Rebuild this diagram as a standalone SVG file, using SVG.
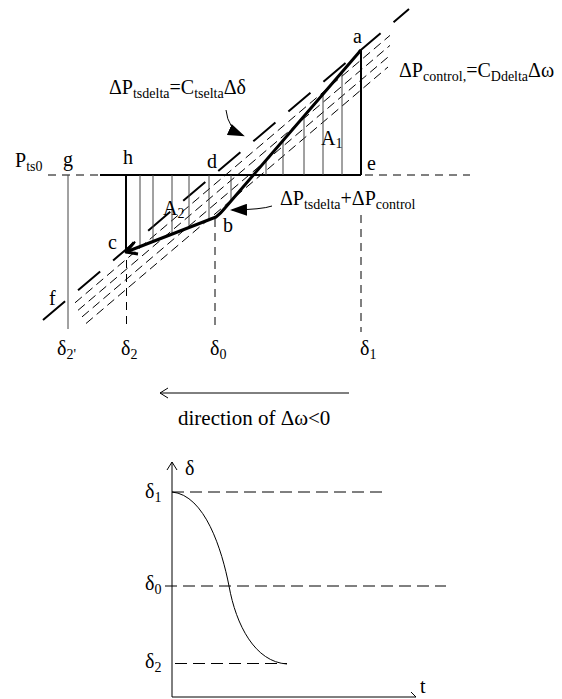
<svg xmlns="http://www.w3.org/2000/svg" width="562" height="699" viewBox="0 0 562 699" font-family="'Liberation Serif','Times New Roman',serif">
<style>
text{font-family:"Liberation Serif","Times New Roman",serif;font-size:20px;fill:#000}
.sub{font-size:14px}
.thick{stroke:#000;stroke-width:2;fill:none}
.bold{stroke:#000;stroke-width:3;fill:none;stroke-linejoin:round}
.hatch{stroke:#444;stroke-width:1;fill:none}
.mainDash{stroke:#000;stroke-width:2;fill:none;stroke-dasharray:29 17}
.band{stroke:#000;stroke-width:1;fill:none;stroke-dasharray:9 5}
.dash{stroke:#000;stroke-width:1;fill:none;stroke-dasharray:8 6}
.dashL{stroke:#000;stroke-width:1;fill:none;stroke-dasharray:12 6}
.thin{stroke:#000;stroke-width:1;fill:none}
</style>
<defs>
<marker id="tri" markerWidth="17" markerHeight="12" refX="15" refY="6" orient="auto" markerUnits="userSpaceOnUse">
<path d="M0,0 L17,6 L0,12 Z" fill="#000"/>
</marker>
</defs>

<g id="connectors">
<path class="mainDash" d="M43,320 L409,9"/>
<path class="band" d="M75,302.8 L390,35.4"/>
<path class="band" d="M78,310.3 L390,45.4"/>
<path class="band" d="M82,316.9 L390,55.4"/>
<path class="band" d="M86,323.5 L388,67"/>
<path class="dash" d="M48,175 L100,175"/>
<path class="thick" d="M100,175 L361,175"/>
<path class="dash" d="M365,175 L470,175"/>
<path class="hatch" d="M68,175 L68,329"/>
<path class="dash" d="M126.5,260 L126.5,330"/>
<path class="dash" d="M215,219 L215,330"/>
<path class="dash" d="M361,215 L361,332"/>
<path class="hatch" d="M266,161 V175 M283,141 V175 M304,117 V175 M323,94 V175 M342,72 V175"/>
<path class="hatch" d="M140,175 V246.6 M153,175 V241.5 M172,175 V234 M189,175 V227.5 M209,175 V219.7 M231,175 V201"/>
<path class="thick" d="M361,50 L361,175"/>
<path class="thick" d="M126,175 L126,252"/>
<path class="bold" d="M361,50 L225,208 Q221,213 216,217 L126,252"/>
<path class="bold" d="M134,242.5 L126,252 L138,254"/>
<path class="thin" d="M226,110 Q228,129 243,135.5" marker-end="url(#tri)"/>
<path class="thin" d="M272,206 Q262,209.5 232,210" marker-end="url(#tri)"/>
<path class="thin" d="M160,393 L349,393 M168,388 L160,393 L168,398"/>
<path class="thin" d="M172,697 L172,462 M167,470 L172,462 L177,470"/>
<path class="thin" d="M172,697 L416,697 M411,692 L416,697"/>
<path class="dashL" d="M172,492 L382,492"/>
<path class="dashL" d="M165,586 L446,586"/>
<path class="dashL" d="M175,663.5 L287,663.5"/>
<path class="thin" d="M172,492 C205,495 222,550 229,586 C236,625 255,662 287,664"/>
</g>

<g id="label-dPtsdelta"><text x="109" y="94">ΔP<tspan class="sub" dy="4">tsdelta</tspan><tspan dy="-4">=C</tspan><tspan class="sub" dy="4">tselta</tspan><tspan dy="-4">Δδ</tspan></text></g>
<g id="label-dPcontrol"><text x="399" y="77">ΔP<tspan class="sub" dy="4">control,</tspan><tspan dy="-4">=C</tspan><tspan class="sub" dy="4">Ddelta</tspan><tspan dy="-4">Δω</tspan></text></g>
<g id="label-sum"><text x="280" y="205">ΔP<tspan class="sub" dy="4">tsdelta</tspan><tspan dy="-4">+ΔP</tspan><tspan class="sub" dy="4">control</tspan></text></g>
<g id="label-Pts0"><text x="15" y="167">P<tspan class="sub" dy="4">ts0</tspan></text></g>
<g id="node-a"><text x="353" y="43">a</text></g>
<g id="node-b"><text x="223" y="232">b</text></g>
<g id="node-c"><text x="108" y="249">c</text></g>
<g id="node-d"><text x="207" y="168">d</text></g>
<g id="node-e"><text x="367" y="170">e</text></g>
<g id="node-f"><text x="49" y="305">f</text></g>
<g id="node-g"><text x="63" y="166">g</text></g>
<g id="node-h"><text x="123" y="164">h</text></g>
<g id="area-A1"><text x="321" y="145">A<tspan class="sub" dy="3">1</tspan></text></g>
<g id="area-A2"><text x="163" y="215">A<tspan class="sub" dy="3">2</tspan></text></g>
<g id="delta-axis-labels">
<text x="57" y="355">δ<tspan class="sub" dy="4">2'</tspan></text>
<text x="121" y="355">δ<tspan class="sub" dy="4">2</tspan></text>
<text x="210" y="355">δ<tspan class="sub" dy="4">0</tspan></text>
<text x="360" y="355">δ<tspan class="sub" dy="4">1</tspan></text>
</g>
<g id="label-direction"><text x="178" y="425" style="font-size:21px">direction of Δω&lt;0</text></g>
<g id="graph-labels">
<text x="185" y="475">δ</text>
<text x="420" y="693">t</text>
<text x="145" y="498">δ<tspan class="sub" dy="4">1</tspan></text>
<text x="145" y="590">δ<tspan class="sub" dy="4">0</tspan></text>
<text x="145" y="668">δ<tspan class="sub" dy="4">2</tspan></text>
</g>
</svg>
